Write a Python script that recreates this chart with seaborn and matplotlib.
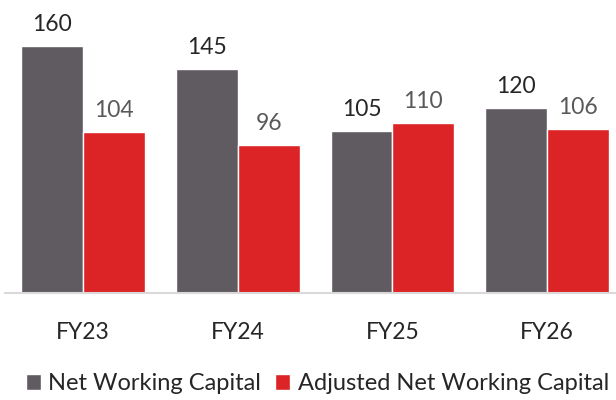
import matplotlib
matplotlib.use("Agg")
import matplotlib.pyplot as plt
import seaborn as sns
import pandas as pd
from matplotlib.patches import Patch

years = ["FY23", "FY24", "FY25", "FY26"]
nwc = [160, 145, 105, 120]
adj_nwc = [104, 96, 110, 106]
series_names = ["Net Working Capital", "Adjusted Net Working Capital"]

df = pd.DataFrame({
    "year": years * 2,
    "value": nwc + adj_nwc,
    "series": [series_names[0]] * len(years) + [series_names[1]] * len(years),
})

sns.set_theme(style="white")
plt.rcParams["font.family"] = ["Lato", "DejaVu Sans"]

colors = ["#605a61", "#dc2426"]
label_colors = ["#262626", "#595959"]

fig = plt.figure(figsize=(6.16, 4.0), dpi=100)
ax = fig.add_axes([5 / 616, 107 / 400, 611 / 616, 293 / 400])

sns.barplot(data=df, x="year", y="value", hue="series", palette=colors,
            width=0.8, saturation=1, ax=ax, legend=False)

for container, lc in zip(ax.containers, label_colors):
    ax.bar_label(container, padding=8, fontsize=16.5, color=lc)

ax.set_ylim(0, 189.8)
ax.set_xlim(-0.505, 3.445)
ax.set_xlabel("")
ax.set_ylabel("")
ax.set_yticks([])
for s in ["top", "right", "left"]:
    ax.spines[s].set_visible(False)
ax.spines["bottom"].set_color("#d9d9d9")
ax.spines["bottom"].set_linewidth(1.5)
ax.tick_params(axis="x", length=0, pad=21, labelsize=16.5, labelcolor="#262626")

handles = [Patch(facecolor=c, label=n) for c, n in zip(colors, series_names)]
fig.legend(handles=handles, loc="center", bbox_to_anchor=(0.515, 0.04),
           ncol=2, frameon=False, fontsize=17, handlelength=0.65, handleheight=0.65,
           handletextpad=0.3, columnspacing=0.6, labelcolor="#262626")

fig.savefig("out.png", dpi=100)
